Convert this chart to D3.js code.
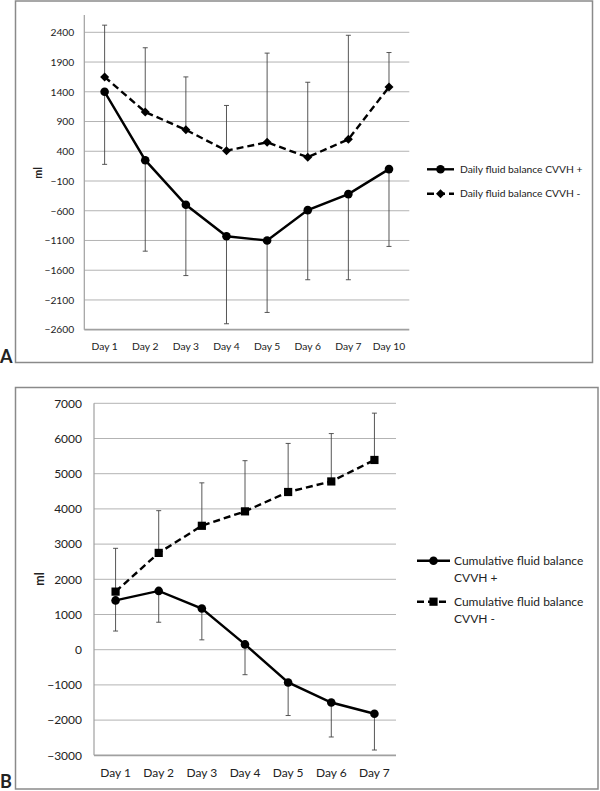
<!DOCTYPE html>
<html><head><meta charset="utf-8">
<script src="https://cdn.jsdelivr.net/npm/d3@7"></script>
<style>
body{margin:0;background:#fff;}
svg{display:block;}
text{font-family:Lato,"Liberation Sans",Arial,sans-serif;fill:#222;}
</style></head>
<body><svg id="c" width="600" height="791"></svg>
<script>
// ---- Data: panel A (daily fluid balance) ----
const daysA = ["Day 1","Day 2","Day 3","Day 4","Day 5","Day 6","Day 7","Day 10"];
const dailyPlus = [1400, 250, -500, -1030, -1100, -590, -320, 100];
const dailyPlusErrLow = [180, -1280, -1690, -2500, -2310, -1760, -1760, -1200];
const dailyMinus = [1650, 1060, 760, 410, 550, 300, 600, 1480];
const dailyMinusErrHigh = [2520, 2140, 1650, 1170, 2050, 1560, 2350, 2060];
const ticksA = [2400, 1900, 1400, 900, 400, -100, -600, -1100, -1600, -2100, -2600];
const legendA = ["Daily fluid balance CVVH +", "Daily fluid balance CVVH -"];

// ---- Data: panel B (cumulative fluid balance) ----
const daysB = ["Day 1","Day 2","Day 3","Day 4","Day 5","Day 6","Day 7"];
const cumPlus = [1400, 1670, 1170, 150, -930, -1500, -1820];
const cumPlusErrLow = [530, 780, 280, -710, -1870, -2480, -2850];
const cumMinus = [1650, 2750, 3520, 3930, 4480, 4780, 5390];
const cumMinusErrHigh = [2880, 3950, 4740, 5370, 5860, 6140, 6720];
const ticksB = [7000, 6000, 5000, 4000, 3000, 2000, 1000, 0, -1000, -2000, -3000];
const legendB = [["Cumulative fluid balance", "CVVH +"], ["Cumulative fluid balance", "CVVH -"]];

const svg = d3.select("#c");
const GRID = "#b3b3b3", FRAME = "#8a8a8a", ERR = "#444";

function marker(g, type, x, y) {
  if (type === "circle") {
    g.append("circle").attr("cx", x).attr("cy", y).attr("r", 4.3).attr("fill", "#000");
  } else if (type === "diamond") {
    const s = 4.5;
    g.append("path").attr("d", `M${x},${y-s}L${x+s},${y}L${x},${y+s}L${x-s},${y}Z`).attr("fill", "#000");
  } else {
    const s = 4.1;
    g.append("rect").attr("x", x-s).attr("y", y-s).attr("width", 2*s).attr("height", 2*s).attr("fill", "#000");
  }
}

function panel(cfg) {
  const FS = cfg.fs;
  const g = svg.append("g");
  g.append("rect").attr("x", cfg.frame[0]).attr("y", cfg.frame[1])
    .attr("width", cfg.frame[2]).attr("height", cfg.frame[3])
    .attr("fill", "none").attr("stroke", FRAME).attr("stroke-width", 1.5);

  const x = d3.scaleBand().domain(cfg.cats).range([cfg.left, cfg.right]).padding(0);
  const cx = d => x(d) + x.bandwidth() / 2;
  const y = d3.scaleLinear().domain(cfg.domain).range(cfg.yrange);

  g.append("g").selectAll("line").data(cfg.ticks.slice(0, -1)).join("line")
    .attr("x1", cfg.left).attr("x2", cfg.right)
    .attr("y1", d => y(d)).attr("y2", d => y(d))
    .attr("stroke", GRID).attr("stroke-width", 1);
  const yb = y(cfg.ticks[cfg.ticks.length - 1]);
  g.append("line").attr("x1", cfg.left).attr("x2", cfg.right).attr("y1", yb).attr("y2", yb)
    .attr("stroke", "#a0a0a0").attr("stroke-width", 1.8);
  g.append("line").attr("x1", cfg.left).attr("x2", cfg.left).attr("y1", cfg.axisTop).attr("y2", yb)
    .attr("stroke", "#a0a0a0").attr("stroke-width", 1.2);

  const ya = g.append("g").attr("transform", `translate(${cfg.left},0)`)
    .call(d3.axisLeft(y).tickValues(cfg.ticks).tickSize(0).tickPadding(cfg.yPad).tickFormat(d3.format("d")));
  ya.select(".domain").remove();
  ya.selectAll("text").attr("font-size", FS).attr("font-family", null).attr("fill", "#222");

  const xa = g.append("g").attr("transform", `translate(0,${yb})`)
    .call(d3.axisBottom(x).tickSize(0).tickPadding(0));
  xa.select(".domain").remove();
  xa.selectAll("text").attr("y", cfg.xOff).attr("dy", "0.35em").attr("font-size", FS).attr("font-family", null).attr("fill", "#222");

  g.append("text").attr("transform", `translate(${cfg.ml[0]},${cfg.ml[1]}) rotate(-90)`)
    .attr("text-anchor", "middle").attr("dy", "0.35em").attr("font-size", FS + 0.5).attr("font-weight", "bold").text("ml");

  const eb = g.append("g").attr("stroke", ERR).attr("stroke-width", 0.9);
  cfg.series.forEach(s => {
    s.vals.forEach((v, i) => {
      const xx = cx(cfg.cats[i]);
      eb.append("line").attr("x1", xx).attr("x2", xx).attr("y1", y(v)).attr("y2", y(s.err[i]));
      eb.append("line").attr("x1", xx - 2.5).attr("x2", xx + 2.5).attr("y1", y(s.err[i])).attr("y2", y(s.err[i]));
    });
  });

  cfg.series.forEach(s => {
    const line = d3.line().x((d, i) => cx(cfg.cats[i])).y(d => y(d));
    g.append("path").datum(s.vals).attr("d", line).attr("fill", "none")
      .attr("stroke", "#000").attr("stroke-width", 2.4)
      .attr("stroke-dasharray", s.dash ? "7,4" : null);
    s.vals.forEach((v, i) => marker(g, s.marker, cx(cfg.cats[i]), y(v)));
  });

  cfg.series.forEach((s, k) => {
    const L = cfg.legend[k];
    g.append("line").attr("x1", L.x1).attr("x2", L.x2).attr("y1", L.y).attr("y2", L.y)
      .attr("stroke", "#000").attr("stroke-width", 2.4).attr("stroke-dasharray", s.dash ? "7,4" : null);
    marker(g, s.marker, (L.x1 + L.x2) / 2, L.y);
    const lines = Array.isArray(s.name) ? s.name : [s.name];
    lines.forEach((t, j) => {
      g.append("text").attr("x", L.tx).attr("y", L.y + j * L.lh).attr("dy", "0.35em")
        .attr("font-size", FS).text(t);
    });
  });

  g.append("text").attr("x", cfg.letter[0]).attr("y", cfg.letter[1])
    .attr("font-family", "Liberation Sans, Arial, sans-serif").attr("font-weight", "bold")
    .attr("font-size", 18).attr("fill", "#000").text(cfg.letterText);
}

panel({
  fs: 10.3,
  frame: [15.5, 1, 577, 361.5],
  cats: daysA, left: 84.3, right: 409.3,
  domain: [-2600, 2400], yrange: [329.7, 32.3], axisTop: 15,
  ticks: ticksA, yPad: 10, xOff: 17, ml: [38.5, 173],
  series: [
    {name: legendA[0], vals: dailyPlus, err: dailyPlusErrLow, marker: "circle", dash: false},
    {name: legendA[1], vals: dailyMinus, err: dailyMinusErrHigh, marker: "diamond", dash: true}
  ],
  legend: [
    {x1: 427, x2: 454, y: 169.3, tx: 460, lh: 0},
    {x1: 427, x2: 454, y: 193.8, tx: 460, lh: 0}
  ],
  letter: [0, 363], letterText: "A"
});

panel({
  fs: 12,
  frame: [15.5, 387.5, 582.5, 401.5],
  cats: daysB, left: 94, right: 396,
  domain: [-3000, 7000], yrange: [755.3, 403.3], axisTop: 403.3,
  ticks: ticksB, yPad: 12, xOff: 18, ml: [40, 579],
  series: [
    {name: legendB[0], vals: cumPlus, err: cumPlusErrLow, marker: "circle", dash: false},
    {name: legendB[1], vals: cumMinus, err: cumMinusErrHigh, marker: "square", dash: true}
  ],
  legend: [
    {x1: 417, x2: 450, y: 560.7, tx: 454, lh: 16.6},
    {x1: 417, x2: 450, y: 601.7, tx: 454, lh: 17.3}
  ],
  letter: [0, 788], letterText: "B"
});
</script></body></html>
